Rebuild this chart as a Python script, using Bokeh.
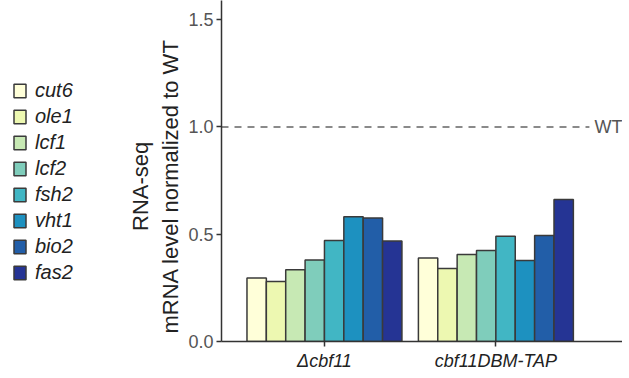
import numpy as np
from bokeh.plotting import figure
from bokeh.layouts import row
from bokeh.models import (ColumnDataSource, Range1d, FixedTicker, Legend, LegendItem,
                          Label)
from bokeh.embed import file_html
from bokeh.resources import INLINE

genes = ["cut6", "ole1", "lcf1", "lcf2", "fsh2", "vht1", "bio2", "fas2"]
groups = ["Δcbf11", "cbf11DBM-TAP"]
delta_vals = [0.296, 0.280, 0.334, 0.380, 0.471, 0.581, 0.575, 0.468]
dbm_vals = [0.389, 0.340, 0.405, 0.424, 0.491, 0.377, 0.494, 0.662]
colors = ["#ffffd9", "#edf8b1", "#c7e9b4", "#7fcdbb", "#41b6c4", "#1d91c0", "#225ea8", "#253494"]
wt_level = 1.0
y_ticks = [0.0, 0.5, 1.0, 1.5]

H = 373
bar_w = 0.113
x0, x1 = -0.6006, 1.7386
p = figure(width=502, height=H, output_backend="svg", toolbar_location=None,
           x_range=Range1d(x0, x1), y_range=Range1d(0, 1.589),
           min_border_left=101, min_border_right=0, min_border_top=0, min_border_bottom=0)
p.background_fill_color = "white"
p.border_fill_color = "white"
p.outline_line_color = None
p.xgrid.grid_line_color = None
p.ygrid.grid_line_color = None

# legend figure (separate panel on the left)
lf = figure(width=120, height=H, output_backend="svg", toolbar_location=None,
            x_axis_location=None, y_axis_location=None,
            x_range=Range1d(0, 1), y_range=Range1d(0, 1),
            min_border=0, min_border_left=0, min_border_right=0,
            min_border_top=0, min_border_bottom=0)
lf.outline_line_color = None
lf.xgrid.grid_line_color = None
lf.ygrid.grid_line_color = None

items = []
for i, g in enumerate(genes):
    off = (i - 3.5) * bar_w
    src = ColumnDataSource(dict(x=[k + off for k in range(len(groups))],
                                top=[delta_vals[i], dbm_vals[i]]))
    style = dict(fill_color=colors[i], line_color="#3a3a3a", line_width=1.5)
    p.vbar(x="x", top="top", width=bar_w, bottom=0, source=src, **style)
    lsrc = ColumnDataSource(dict(x=np.array([np.nan]), top=np.array([np.nan])))
    lr = lf.vbar(x="x", top="top", width=0.1, bottom=0, source=lsrc, **style)
    items.append(LegendItem(label=g, renderers=[lr]))

# WT dashed line
p.line(x=[x0, 1.5456], y=[wt_level, wt_level], line_color="#8a8a8a",
       line_width=2, line_dash="7 6")
p.add_layout(Label(x=1.5748, y=wt_level, text="WT", text_font="Liberation Sans",
                   text_font_size="18px", text_color="#555555",
                   text_baseline="middle", text_align="left"))

# axes
p.yaxis.ticker = FixedTicker(ticks=y_ticks)
p.yaxis.major_label_overrides = {t: f"{t:.1f}" for t in y_ticks}
p.xaxis.ticker = FixedTicker(ticks=list(range(len(groups))))
p.xaxis.major_label_overrides = {k: g for k, g in enumerate(groups)}
for ax in (p.xaxis, p.yaxis):
    ax.axis_line_color = "#333333"
    ax.axis_line_width = 1.5
    ax.major_tick_line_color = "#333333"
    ax.major_tick_line_width = 1.5
    ax.major_tick_out = 5
    ax.major_tick_in = 0
    ax.minor_tick_line_color = None
p.yaxis.major_label_text_font = "Liberation Sans"
p.yaxis.major_label_text_font_size = "18px"
p.yaxis.major_label_text_color = "#555555"
p.yaxis.major_label_standoff = 3
pad = "\u00a0" * 5
p.yaxis.axis_label = "RNA-seq" + pad + "\nmRNA level normalized to WT" + pad
p.yaxis.axis_label_text_font = "Liberation Sans"
p.yaxis.axis_label_text_font_size = "22px"
p.yaxis.axis_label_text_font_style = "normal"
p.yaxis.axis_label_text_color = "#222222"
p.yaxis.axis_label_text_line_height = 1.2
p.yaxis.axis_label_standoff = 2
p.xaxis.major_label_text_font = "Liberation Sans"
p.xaxis.major_label_text_font_size = "18px"
p.xaxis.major_label_text_font_style = "italic"
p.xaxis.major_label_text_color = "#222222"
p.xaxis.major_label_standoff = 4

legend = Legend(items=items, location=(12, 57), orientation="vertical",
                label_text_font="Liberation Sans", label_text_font_size="20px",
                label_text_font_style="italic", label_text_color="#222222",
                glyph_width=15, glyph_height=17, label_height=17, spacing=3,
                padding=0, margin=0, label_standoff=8,
                border_line_alpha=0, background_fill_alpha=0)
lf.add_layout(legend, "center")

open("out.html", "w").write(file_html(row(lf, p), INLINE))
